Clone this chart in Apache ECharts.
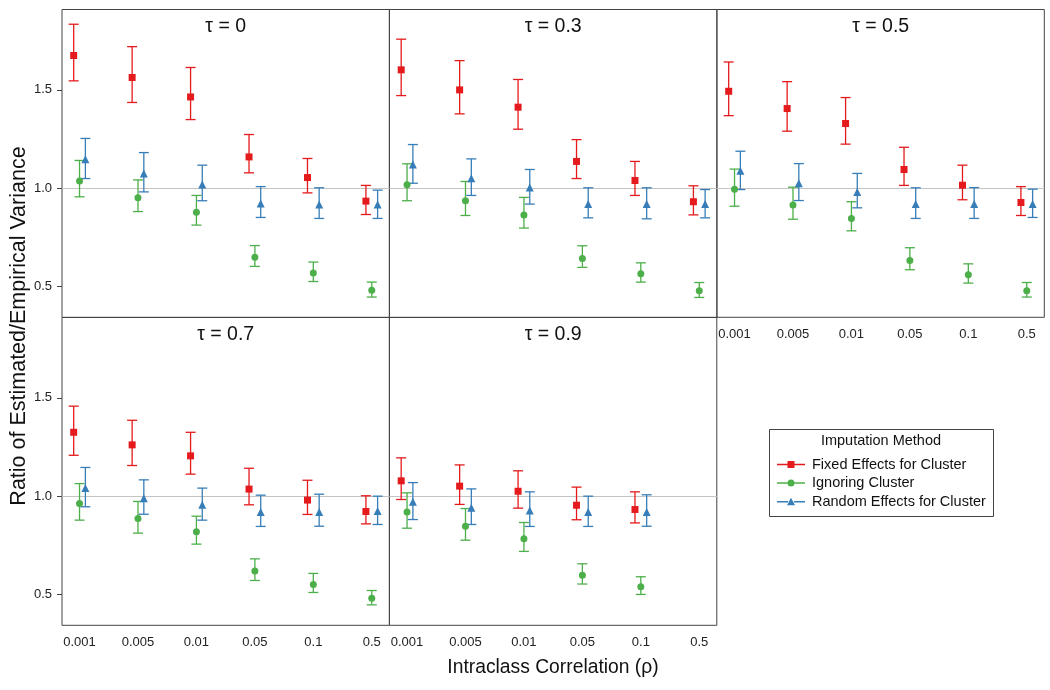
<!DOCTYPE html>
<html>
<head>
<meta charset="utf-8">
<script src="https://cdn.jsdelivr.net/npm/echarts@6/dist/echarts.min.js"></script>
<style>
html,body{margin:0;padding:0;background:#fff;}
#chart{width:1050px;height:690px;}
</style>
</head>
<body>
<div id="chart"></div>
<script>
// ---------- DATA ----------
const categories = ['0.001', '0.005', '0.01', '0.05', '0.1', '0.5'];
const panelTaus = ['0', '0.3', '0.5', '0.7', '0.9'];
const methodNames = ['Fixed Effects for Cluster', 'Ignoring Cluster', 'Random Effects for Cluster'];
const yTickValues = [0.5, 1.0, 1.5];

// each entry: [mean, lower, upper]
const fixed_tau0  = [[1.675,1.546,1.834],[1.563,1.436,1.720],[1.464,1.349,1.614],[1.159,1.078,1.273],[1.054,0.976,1.151],[0.934,0.866,1.014]];
const ignore_tau0 = [[1.036,0.956,1.141],[0.951,0.881,1.042],[0.878,0.812,0.963],[0.649,0.602,0.708],[0.568,0.525,0.624],[0.480,0.446,0.522]];
const random_tau0 = [[1.147,1.049,1.253],[1.075,0.981,1.181],[1.019,0.936,1.117],[0.922,0.851,1.008],[0.917,0.846,1.002],[0.917,0.846,0.990]];

const fixed_tau03  = [[1.602,1.471,1.758],[1.500,1.378,1.649],[1.412,1.300,1.553],[1.136,1.049,1.247],[1.039,0.963,1.136],[0.931,0.864,1.012]];
const ignore_tau03 = [[1.017,0.936,1.124],[0.936,0.861,1.034],[0.864,0.797,0.953],[0.642,0.597,0.707],[0.564,0.522,0.620],[0.478,0.444,0.520]];
const random_tau03 = [[1.120,1.025,1.222],[1.051,0.963,1.149],[1.003,0.919,1.095],[0.919,0.849,1.002],[0.919,0.844,1.002],[0.919,0.849,0.993]];

const fixed_tau05  = [[1.493,1.369,1.642],[1.405,1.290,1.542],[1.329,1.224,1.461],[1.095,1.014,1.208],[1.015,0.941,1.117],[0.927,0.861,1.008]];
const ignore_tau05 = [[0.995,0.908,1.097],[0.914,0.842,1.005],[0.846,0.783,0.931],[0.632,0.585,0.697],[0.559,0.517,0.615],[0.478,0.446,0.520]];
const random_tau05 = [[1.088,0.993,1.188],[1.025,0.937,1.125],[0.980,0.900,1.075],[0.919,0.846,1.002],[0.919,0.846,1.003],[0.920,0.851,0.995]];

const fixed_tau07  = [[1.325,1.208,1.458],[1.261,1.156,1.386],[1.205,1.112,1.325],[1.036,0.956,1.142],[0.980,0.907,1.081],[0.922,0.859,1.002]];
const ignore_tau07 = [[0.963,0.878,1.064],[0.886,0.812,0.973],[0.819,0.756,0.898],[0.619,0.571,0.681],[0.551,0.510,0.607],[0.480,0.447,0.520]];
const random_tau07 = [[1.042,0.946,1.146],[0.990,0.908,1.083],[0.956,0.878,1.041],[0.919,0.846,1.005],[0.919,0.847,1.010],[0.925,0.856,1.000]];

const fixed_tau09  = [[1.078,0.983,1.195],[1.051,0.958,1.159],[1.025,0.939,1.129],[0.954,0.880,1.046],[0.932,0.864,1.022],null];
const ignore_tau09 = [[0.920,0.837,1.017],[0.847,0.776,0.937],[0.783,0.719,0.866],[0.598,0.553,0.656],[0.539,0.500,0.590],null];
const random_tau09 = [[0.971,0.881,1.069],[0.941,0.856,1.037],[0.927,0.846,1.022],[0.919,0.846,1.000],[0.919,0.847,1.007],null];

const panelData = [
  [fixed_tau0, ignore_tau0, random_tau0],
  [fixed_tau03, ignore_tau03, random_tau03],
  [fixed_tau05, ignore_tau05, random_tau05],
  [fixed_tau07, ignore_tau07, random_tau07],
  [fixed_tau09, ignore_tau09, random_tau09]
];

// ---------- STYLE / LAYOUT ----------
const colors = ['#E41A1C', '#4DAF4A', '#377EB8'];
const symbols = ['rect', 'circle', 'triangle'];
const symbolSizes = [7, 7, 8];
const dodge = [-0.1, 0, 0.1];
const font = '"Liberation Sans", Arial, Helvetica, sans-serif';

const colLeft = [62, 389.5, 717];
const panelW = 327.3;
const rowTop = [9.5, 317.5];
const panelH = 307.8;
const panelPos = [[0,0],[0,1],[0,2],[1,0],[1,1]]; // [row, col]
const showXLabels = [false, false, true, true, true];
const showYLabels = [true, false, false, true, false];

const grids = [], xAxes = [], yAxes = [], series = [], graphics = [];

panelPos.forEach(([r, c], p) => {
  grids.push({
    left: colLeft[c], top: rowTop[r], width: panelW, height: panelH,
    show: true, borderColor: '#444', borderWidth: 1, backgroundColor: 'transparent'
  });
  xAxes.push({
    type: 'value', gridIndex: p, min: 0.7, max: 6.3,
    axisLine: {show: false}, axisTick: {show: false}, splitLine: {show: false},
    axisLabel: {
      show: showXLabels[p], customValues: [1,2,3,4,5,6], margin: 11,
      formatter: v => categories[Math.round(v) - 1],
      fontFamily: font, fontSize: 13, color: '#222'
    }
  });
  yAxes.push({
    type: 'value', gridIndex: p, min: 0.343, max: 1.909,
    axisLine: {show: false}, splitLine: {show: false},
    axisTick: {show: showYLabels[p], customValues: yTickValues, length: 5, lineStyle: {color: '#444'}},
    axisLabel: {
      show: showYLabels[p], customValues: yTickValues, margin: 10,
      formatter: v => v.toFixed(1),
      fontFamily: font, fontSize: 13, color: '#222'
    }
  });
  graphics.push({
    type: 'text',
    x: colLeft[c] + panelW / 2, y: rowTop[r] + 17.5,
    style: {text: 'τ = ' + panelTaus[p], fontFamily: font, fontSize: 19.5, fill: '#111',
            textAlign: 'center', textVerticalAlign: 'middle'}
  });

  panelData[p].forEach((arr, m) => {
    const pts = [], bars = [];
    arr.forEach((d, i) => {
      if (!d) return;
      const x = i + 1 + dodge[m];
      pts.push([x, d[0]]);
      bars.push([x, d[1], d[2]]);
    });
    series.push({
      name: methodNames[m], type: 'custom', xAxisIndex: p, yAxisIndex: p,
      data: bars, encode: {x: 0, y: [1, 2]}, z: 2, silent: true,
      renderItem: (params, api) => {
        const x = api.value(0);
        const top = api.coord([x, api.value(2)]);
        const bot = api.coord([x, api.value(1)]);
        const w = 5;
        const st = {stroke: colors[m], lineWidth: 1.3};
        return {type: 'group', children: [
          {type: 'line', shape: {x1: top[0], y1: top[1], x2: bot[0], y2: bot[1]}, style: st},
          {type: 'line', shape: {x1: top[0] - w, y1: top[1], x2: top[0] + w, y2: top[1]}, style: st},
          {type: 'line', shape: {x1: bot[0] - w, y1: bot[1], x2: bot[0] + w, y2: bot[1]}, style: st}
        ]};
      },
      markLine: m === 0 ? {
        silent: true, symbol: 'none', label: {show: false},
        lineStyle: {color: '#c4c4c4', width: 1, type: 'solid'},
        data: [{yAxis: 1}], z: 1
      } : undefined
    });
    series.push({
      name: methodNames[m], type: 'scatter', xAxisIndex: p, yAxisIndex: p,
      data: pts, symbol: symbols[m], symbolSize: symbolSizes[m], z: 3,
      itemStyle: {color: colors[m], opacity: 1}
    });
  });
});

// axis titles and legend frame
graphics.push({
  type: 'text', x: 553, y: 668,
  style: {text: 'Intraclass Correlation (ρ)', fontFamily: font, fontSize: 19.3, fill: '#111',
          textAlign: 'center', textVerticalAlign: 'middle'}
});
graphics.push({
  type: 'text', x: 19.5, y: 326, rotation: Math.PI / 2,
  style: {text: 'Ratio of Estimated/Empirical Variance', fontFamily: font, fontSize: 21.5, fill: '#111',
          textAlign: 'center', textVerticalAlign: 'middle'}
});
graphics.push({
  type: 'rect', shape: {x: 769.5, y: 429.5, width: 224, height: 87},
  style: {fill: 'none', stroke: '#444', lineWidth: 1}
});
graphics.push({
  type: 'text', x: 881, y: 441,
  style: {text: 'Imputation Method', fontFamily: font, fontSize: 14.5, fill: '#111',
          textAlign: 'center', textVerticalAlign: 'middle'}
});

const legendIcons = [
  'path://M0,4.3L10.5,4.3L10.5,5.7L0,5.7Z M17.5,4.3L28,4.3L28,5.7L17.5,5.7Z M10.5,1.5L17.5,1.5L17.5,8.5L10.5,8.5Z',
  'path://M0,4.3L10.5,4.3L10.5,5.7L0,5.7Z M17.5,4.3L28,4.3L28,5.7L17.5,5.7Z M10.5,5A3.5,3.5,0,1,1,17.5,5A3.5,3.5,0,1,1,10.5,5Z',
  'path://M0,4.3L11,4.3L11,5.7L0,5.7Z M17,4.3L28,4.3L28,5.7L17,5.7Z M14,1L18,8.5L10,8.5Z'
];

const option = {
  animation: false,
  backgroundColor: '#fff',
  textStyle: {fontFamily: font},
  grid: grids,
  xAxis: xAxes,
  yAxis: yAxes,
  legend: {
    orient: 'vertical', left: 772, top: 452,
    itemWidth: 28, itemHeight: 10, itemGap: 3.5,
    selectedMode: false,
    textStyle: {fontFamily: font, fontSize: 14.5, color: '#111', padding: [0, 0, 0, 2]},
    data: methodNames.map((n, m) => ({name: n, icon: legendIcons[m], itemStyle: {color: colors[m]}}))
  },
  graphic: graphics,
  series: series
};

const chart = echarts.init(document.getElementById('chart'), null, {renderer: 'canvas'});
chart.setOption(option);
</script>
</body>
</html>
